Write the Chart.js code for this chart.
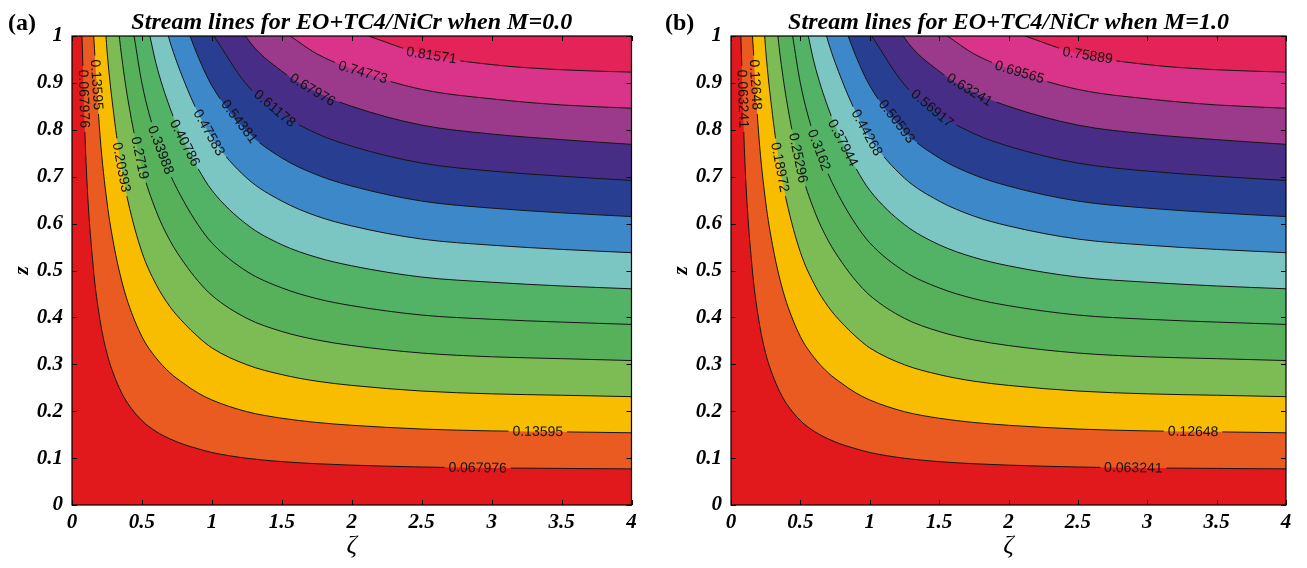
<!DOCTYPE html>
<html>
<head>
<meta charset="utf-8">
<script src="https://cdn.jsdelivr.net/npm/chart.js@4.4.1/dist/chart.umd.min.js"></script>
<style>
  html, body { margin: 0; padding: 0; background: #fff; }
  .panel { position: absolute; top: 0; height: 568px; }
  #panelA { left: 0; width: 653px; }
  #panelB { left: 653px; width: 654px; }
</style>
</head>
<body>
<div class="panel" id="panelA"><canvas id="chartA"></canvas></div>
<div class="panel" id="panelB"><canvas id="chartB"></canvas></div>
<script>
// zeta positions where the stream lines are sampled
const zeta = [0.05, 0.1, 0.15, 0.2, 0.25, 0.3, 0.35, 0.4, 0.5, 0.6, 0.7, 0.8, 0.9, 1, 1.25, 1.5, 1.75, 2, 2.5, 3, 3.5, 4];

// zeta where each stream line leaves through z = 1
const topZeta = [0.071, 0.155, 0.243, 0.338, 0.444, 0.557, 0.689, 0.844, 1.014, 1.243, 1.56, 2.12];

// z of each stream line, aligned with the end of the zeta list
const streamZ = [
  [0.733, 0.513, 0.395, 0.323, 0.277, 0.242, 0.216, 0.180, 0.157, 0.141, 0.129, 0.120, 0.112, 0.0996, 0.0925, 0.088, 0.085, 0.081, 0.079, 0.078, 0.077],
  [0.789, 0.646, 0.553, 0.484, 0.432, 0.359, 0.314, 0.282, 0.259, 0.239, 0.224, 0.199, 0.185, 0.176, 0.170, 0.162, 0.158, 0.156, 0.154],
  [0.970, 0.830, 0.726, 0.648, 0.539, 0.471, 0.423, 0.388, 0.359, 0.335, 0.299, 0.278, 0.264, 0.255, 0.243, 0.237, 0.234, 0.231],
  [0.968, 0.864, 0.719, 0.628, 0.564, 0.517, 0.478, 0.447, 0.398, 0.370, 0.352, 0.340, 0.324, 0.316, 0.312, 0.308],
  [0.899, 0.785, 0.706, 0.647, 0.598, 0.559, 0.498, 0.463, 0.440, 0.425, 0.405, 0.396, 0.390, 0.385],
  [0.942, 0.847, 0.776, 0.718, 0.671, 0.598, 0.555, 0.528, 0.510, 0.486, 0.475, 0.467, 0.461],
  [0.988, 0.905, 0.837, 0.783, 0.697, 0.648, 0.616, 0.595, 0.567, 0.554, 0.545, 0.538],
  [0.957, 0.894, 0.797, 0.740, 0.704, 0.680, 0.648, 0.633, 0.623, 0.615],
  [0.896, 0.833, 0.792, 0.765, 0.729, 0.712, 0.701, 0.692],
  [0.996, 0.925, 0.880, 0.850, 0.810, 0.791, 0.779, 0.769],
  [0.962, 0.930, 0.886, 0.866, 0.853, 0.846],
  [0.962, 0.939, 0.928, 0.923]
];

// contour levels (M = 0.0 and M = 1.0)
const levelsA = ['0.067976', '0.13595', '0.20393', '0.2719', '0.33988', '0.40786', '0.47583', '0.54381', '0.61178', '0.67976', '0.74773', '0.81571'];
const levelsB = ['0.063241', '0.12648', '0.18972', '0.25296', '0.3162', '0.37944', '0.44268', '0.50593', '0.56917', '0.63241', '0.69565', '0.75889'];

// where the level text sits on each line (by z or by zeta)
const labelSpots = [
  [{ y: 0.866 }, { x: 2.9 }],
  [{ y: 0.896 }, { x: 3.33 }],
  [{ y: 0.72 }],
  [{ y: 0.74 }],
  [{ y: 0.757 }],
  [{ y: 0.772 }],
  [{ y: 0.794 }],
  [{ y: 0.818 }],
  [{ x: 1.45 }],
  [{ x: 1.72 }],
  [{ x: 2.08 }],
  [{ x: 2.57 }]
];

const bandColors = ['#E1191C', '#E95B20', '#F9BD00', '#7DBB55', '#57B05A', '#52B265', '#7BC6C3',
  '#3D88C8', '#283F91', '#472D85', '#9B3A8B', '#DA348A', '#E42359'];

const serif = '"Liberation Serif", "Times New Roman", serif';
const labelFont = '14px "Liberation Sans", Arial, sans-serif';

function streamPoints(k) {
  const zs = streamZ[k];
  const start = zeta.length - zs.length;
  return [{ x: topZeta[k], y: 1 }].concat(zs.map((z, i) => ({ x: zeta[start + i], y: z })));
}

// finds pixel position and direction of each level label along its line
function placeLabels(chart, di) {
  const ds = chart.data.datasets[di];
  const pts = chart.getDatasetMeta(di).data;
  const xs = chart.scales.x, ys = chart.scales.y;
  const ctx = chart.ctx;
  ctx.save();
  ctx.font = labelFont;
  const w = ctx.measureText(ds.label).width;
  ctx.restore();
  const out = [];
  ds.spots.forEach(s => {
    for (let j = 1; j < pts.length; j++) {
      const p = pts[j - 1], q = pts[j];
      let t;
      if (s.x !== undefined) {
        const px = xs.getPixelForValue(s.x);
        if (px < p.x || px > q.x) continue;
        t = (px - p.x) / (q.x - p.x);
      } else {
        const py = ys.getPixelForValue(s.y);
        if (py < p.y || py > q.y) continue;
        t = (py - p.y) / (q.y - p.y);
      }
      out.push({ x: p.x + t * (q.x - p.x), y: p.y + t * (q.y - p.y),
        angle: Math.atan2(q.y - p.y, q.x - p.x), text: ds.label, w });
      break;
    }
  });
  return out;
}

const decorPlugin = {
  id: 'decor',
  beforeDraw(chart) {
    const { ctx, chartArea: a } = chart;
    ctx.save();
    ctx.fillStyle = bandColors[0];
    ctx.fillRect(a.left, a.top, a.right - a.left, a.bottom - a.top);
    ctx.restore();
  },
  beforeDatasetDraw(chart, args) {
    // leave a gap in the line under its level text
    const { ctx, chartArea: a } = chart;
    const spots = placeLabels(chart, args.index);
    ctx.save();
    ctx.beginPath();
    ctx.rect(a.left - 2, a.top - 2, a.right - a.left + 4, a.bottom - a.top + 4);
    spots.forEach(s => {
      ctx.save();
      ctx.translate(s.x, s.y);
      ctx.rotate(s.angle);
      ctx.rect(-s.w / 2 - 4, -7, s.w + 8, 14);
      ctx.restore();
    });
    ctx.clip('evenodd');
  },
  afterDatasetDraw(chart) {
    chart.ctx.restore();
  },
  afterDatasetsDraw(chart) {
    const { ctx, chartArea: a, scales } = chart;
    ctx.save();
    ctx.fillStyle = '#111';
    ctx.font = labelFont;
    ctx.textAlign = 'center';
    ctx.textBaseline = 'middle';
    chart.data.datasets.forEach((ds, di) => {
      placeLabels(chart, di).forEach(s => {
        ctx.save();
        ctx.translate(s.x, s.y);
        ctx.rotate(s.angle);
        ctx.fillText(s.text, 0, 0.5);
        ctx.restore();
      });
    });
    // frame and inward ticks on all four sides
    ctx.strokeStyle = '#000';
    ctx.lineWidth = 1.2;
    ctx.strokeRect(a.left, a.top, a.right - a.left, a.bottom - a.top);
    ctx.lineWidth = 1;
    ctx.beginPath();
    scales.x.ticks.forEach(t => {
      const px = Math.round(scales.x.getPixelForValue(t.value)) + 0.5;
      ctx.moveTo(px, a.bottom); ctx.lineTo(px, a.bottom - 5);
      ctx.moveTo(px, a.top); ctx.lineTo(px, a.top + 5);
    });
    scales.y.ticks.forEach(t => {
      const py = Math.round(scales.y.getPixelForValue(t.value)) + 0.5;
      ctx.moveTo(a.left, py); ctx.lineTo(a.left + 5, py);
      ctx.moveTo(a.right, py); ctx.lineTo(a.right - 5, py);
    });
    ctx.stroke();
    ctx.restore();
  },
  afterDraw(chart, args, opts) {
    const { ctx, chartArea: a } = chart;
    const cx = (a.left + a.right) / 2;
    ctx.save();
    ctx.fillStyle = '#000';
    ctx.textBaseline = 'alphabetic';
    ctx.textAlign = 'left';
    ctx.font = 'bold 24px ' + serif;
    ctx.fillText(opts.tag, opts.tagX, 30);
    ctx.textAlign = 'center';
    ctx.font = 'italic bold 24px ' + serif;
    ctx.fillText(opts.title, cx, 29);
    ctx.font = 'italic 26px ' + serif;
    ctx.fillText('\u03B6', cx, 553);
    ctx.translate(a.left - 44, (a.top + a.bottom) / 2);
    ctx.rotate(-Math.PI / 2);
    ctx.font = 'italic bold 22px ' + serif;
    ctx.fillText('z', 0, 0);
    ctx.restore();
  }
};

const tickFont = { family: serif, size: 21, style: 'italic', weight: 'bold' };
const plainTick = v => String(Number(v.toFixed(2)));

function makePanel(canvasId, tag, tagX, title, levels, axisWidth, rightPad) {
  const datasets = levels.map((lv, k) => ({
    label: lv,
    data: streamPoints(k),
    spots: labelSpots[k],
    borderColor: '#151515',
    borderWidth: 1,
    backgroundColor: bandColors[k + 1],
    fill: 'end',
    pointRadius: 0,
    cubicInterpolationMode: 'monotone'
  })).reverse();

  return new Chart(document.getElementById(canvasId), {
    type: 'line',
    data: { datasets },
    options: {
      responsive: true,
      maintainAspectRatio: false,
      animation: false,
      events: [],
      layout: { padding: { left: 0, right: rightPad, top: 36, bottom: 0 } },
      plugins: {
        legend: { display: false },
        tooltip: { enabled: false },
        filler: { drawTime: 'beforeDatasetsDraw' },
        decor: { tag, tagX, title }
      },
      scales: {
        x: {
          type: 'linear', min: 0, max: 4,
          grid: { display: false, drawTicks: false },
          border: { display: false },
          ticks: { stepSize: 0.5, autoSkip: false, maxRotation: 0, padding: 5, color: '#000', font: tickFont, callback: plainTick },
          afterFit(s) { s.height = 63; }
        },
        y: {
          type: 'linear', min: 0, max: 1,
          grid: { display: false, drawTicks: false },
          border: { display: false },
          ticks: { stepSize: 0.1, autoSkip: false, padding: 9, color: '#000', font: tickFont, callback: plainTick },
          afterFit(s) { s.width = axisWidth; }
        }
      }
    },
    plugins: [decorPlugin]
  });
}

makePanel('chartA', '(a)', 8, 'Stream lines for EO+TC4/NiCr when M=0.0', levelsA, 72, 21.5);
makePanel('chartB', '(b)', 12, 'Stream lines for EO+TC4/NiCr when M=1.0', levelsB, 78, 21);
</script>
</body>
</html>
